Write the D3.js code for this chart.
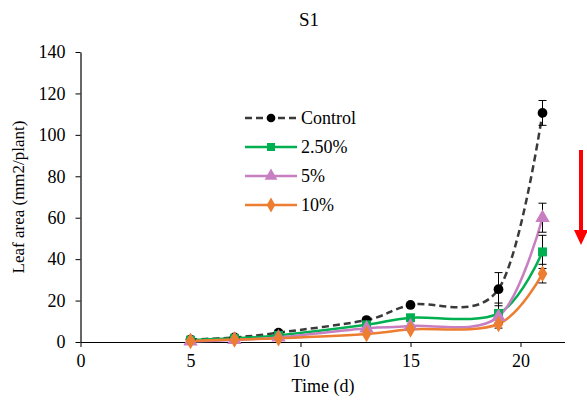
<!DOCTYPE html>
<html>
<head>
<meta charset="utf-8">
<script src="https://cdn.jsdelivr.net/npm/d3@7"></script>
<style>
  body { margin: 0; background: #fff; }
</style>
</head>
<body>
<div id="chart"></div>
<script>
// data
const days = [5, 7, 9, 13, 15, 19, 21];
const control = [1.2, 2.2, 4.5, 10.6, 17.9, 25.5, 110.6];
const pct250 = [0.9, 1.8, 3.2, 8.3, 11.7, 13.8, 43.5];
const pct5 = [0.3, 1.0, 2.2, 6.6, 7.7, 12.2, 60];
const pct10 = [0.5, 1.2, 1.8, 3.9, 6.1, 8.7, 33];
const errControl = [0, 0, 0, 0, 0, 8, 6];
const err250 = [0, 0, 0, 0, 0, 5, 8];
const err5 = [0, 0, 0, 0, 0, 3, 7];
const err10 = [0, 0, 0, 0, 0, 2, 4.5];
const seriesNames = ["Control", "2.50%", "5%", "10%"];
const xTicks = [0, 5, 10, 15, 20];
const yTicks = [0, 20, 40, 60, 80, 100, 120, 140];

const FONT = "'Liberation Serif', 'Times New Roman', serif";

const series = [
  { name: seriesNames[0], values: control, err: errControl, color: "#000000", line: "#3a3a3a", dash: "7,4", symbol: d3.symbolCircle, size: 75 },
  { name: seriesNames[1], values: pct250, err: err250, color: "#00b050", line: "#00b050", dash: null, symbol: d3.symbolSquare, size: 80 },
  { name: seriesNames[2], values: pct5, err: err5, color: "#c77fc2", line: "#c77fc2", dash: null, symbol: d3.symbolTriangle, size: 90 },
  { name: seriesNames[3], values: pct10, err: err10, color: "#ed7d31", line: "#ed7d31", dash: null, symbol: d3.symbolDiamond, size: 80 }
];

const width = 587, height = 400;
const svg = d3.select("#chart").append("svg")
  .attr("width", width)
  .attr("height", height)
  .attr("font-family", FONT)
  .style("display", "block");

const x = d3.scaleLinear().domain([0, 22]).range([80.5, 564.5]);
const y = d3.scaleLinear().domain([0, 140]).range([342, 52]);

// title
svg.append("text")
  .attr("x", 309).attr("y", 26)
  .attr("text-anchor", "middle")
  .attr("font-size", 19)
  .text("S1");

// axes
const xAxis = svg.append("g")
  .attr("transform", `translate(0,${y(0)})`)
  .call(d3.axisBottom(x).tickValues(xTicks).tickSize(5).tickSizeOuter(0));
const yAxis = svg.append("g")
  .attr("transform", `translate(${x(0)},0)`)
  .call(d3.axisLeft(y).tickValues(yTicks).tickSize(5).tickSizeOuter(0));

[xAxis, yAxis].forEach(g => {
  g.attr("font-family", FONT).attr("font-size", 18);
  g.select(".domain").attr("stroke", "#000").attr("stroke-width", 1.2);
  g.selectAll(".tick line").attr("stroke", "#000");
  g.selectAll(".tick text").attr("fill", "#000");
});
xAxis.selectAll(".tick text").attr("y", 12).attr("dy", "0.71em");
yAxis.selectAll(".tick text").attr("x", -15);

// axis titles
svg.append("text")
  .attr("x", 323).attr("y", 392)
  .attr("text-anchor", "middle")
  .attr("font-size", 18)
  .text("Time (d)");
svg.append("text")
  .attr("transform", `translate(24,${y(70)}) rotate(-90)`)
  .attr("text-anchor", "middle")
  .attr("font-size", 17)
  .text("Leaf area (mm2/plant)");

// lines (Excel-style smoothing)
const line = d3.line()
  .x((d, i) => x(days[i]))
  .y(d => y(d))
  .curve(d3.curveCardinal.tension(0));

series.forEach(s => {
  svg.append("path")
    .datum(s.values)
    .attr("fill", "none")
    .attr("stroke", s.line)
    .attr("stroke-width", 2.5)
    .attr("stroke-dasharray", s.dash)
    .attr("d", line);
});

// error bars
series.forEach(s => {
  s.values.forEach((v, i) => {
    const e = s.err[i];
    if (!e) return;
    const cx = x(days[i]);
    const g = svg.append("g").attr("stroke", "#000").attr("stroke-width", 1);
    g.append("line").attr("x1", cx).attr("x2", cx).attr("y1", y(v - e)).attr("y2", y(v + e));
    g.append("line").attr("x1", cx - 4).attr("x2", cx + 4).attr("y1", y(v - e)).attr("y2", y(v - e));
    g.append("line").attr("x1", cx - 4).attr("x2", cx + 4).attr("y1", y(v + e)).attr("y2", y(v + e));
  });
});

// markers
series.forEach(s => {
  svg.append("g").selectAll("path")
    .data(s.values)
    .join("path")
    .attr("transform", (d, i) => `translate(${x(days[i])},${y(d)})`)
    .attr("d", d3.symbol().type(s.symbol).size(s.size))
    .attr("fill", s.color);
});

// legend
const legend = svg.append("g");
series.forEach((s, i) => {
  const ly = 118 + i * 29;
  legend.append("line")
    .attr("x1", 245).attr("x2", 297)
    .attr("y1", ly).attr("y2", ly)
    .attr("stroke", s.line)
    .attr("stroke-width", 2.5)
    .attr("stroke-dasharray", s.dash);
  legend.append("path")
    .attr("transform", `translate(271,${ly})`)
    .attr("d", d3.symbol().type(s.symbol).size(s.size * 0.8))
    .attr("fill", s.color);
  legend.append("text")
    .attr("x", 301).attr("y", ly + 6)
    .attr("font-size", 18)
    .text(s.name);
});

// red arrow
svg.append("line")
  .attr("x1", 581).attr("x2", 581)
  .attr("y1", 150).attr("y2", 232)
  .attr("stroke", "#ff0000")
  .attr("stroke-width", 4);
svg.append("path")
  .attr("d", "M574,230 L588,230 L581,245 Z")
  .attr("fill", "#ff0000");
</script>
</body>
</html>
